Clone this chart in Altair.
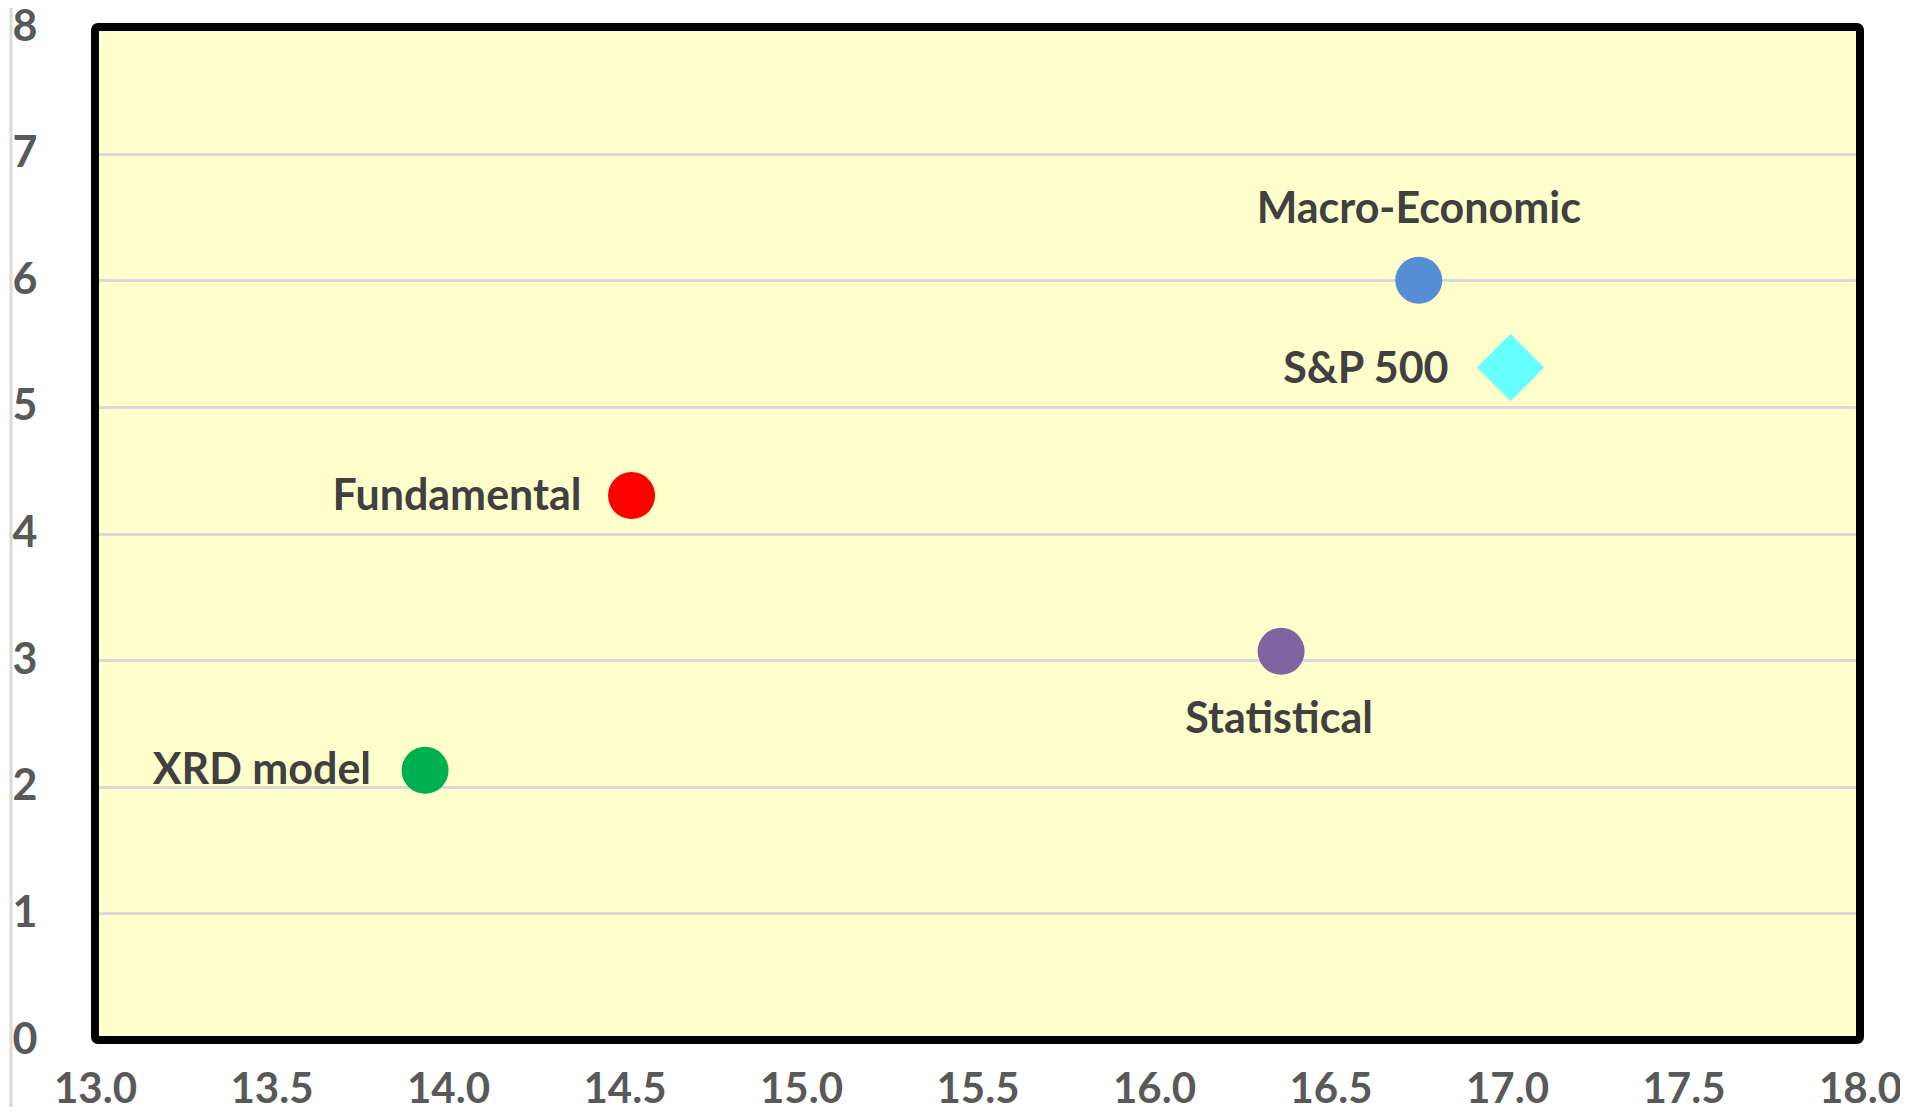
import altair as alt
import pandas as pd

# ---- data ----
names = ["Macro-Economic", "S&P 500", "Statistical", "Fundamental", "XRD model"]
x_vals = [16.75, 17.01, 16.36, 14.52, 13.935]
y_vals = [6.0, 5.31, 3.07, 4.30, 2.13]
shapes = ["circle", "diamond", "circle", "circle", "circle"]
colors = ["#558ED5", "#66FFFF", "#8064A2", "#FF0000", "#00B050"]
x_ticks = [13.0, 13.5, 14.0, 14.5, 15.0, 15.5, 16.0, 16.5, 17.0, 17.5, 18.0]
y_ticks = [0, 1, 2, 3, 4, 5, 6, 7, 8]

df = pd.DataFrame({"name": names, "x": x_vals, "y": y_vals, "shape": shapes})

W, H = 1765, 1013
PAD_L, PAD_T, PAD_R, PAD_B = 87, 19, 40, 67
FONT = "Lato"

xscale = alt.Scale(domain=[13, 18], nice=False, zero=False)
yscale = alt.Scale(domain=[0, 8], nice=False)

xenc = alt.X("x:Q", scale=xscale,
             axis=alt.Axis(values=x_ticks, format=".1f", grid=False, domain=False,
                           ticks=False, labelPadding=29, labelFontSize=42,
                           labelFont=FONT, labelFontWeight="bold", labelColor="#595959",
                           title=None, labelFlush=False))
yenc = alt.Y("y:Q", scale=yscale,
             axis=alt.Axis(values=y_ticks, format="d", grid=True, gridColor="#D9D9D9",
                           gridWidth=3, domain=False, ticks=False, labelPadding=58,
                           labelFontSize=43, labelFont=FONT, labelFontWeight="bold",
                           labelColor="#595959", title=None, labelFlush=False))

base = alt.Chart(df)

points = base.mark_point(filled=True, opacity=1).encode(
    x=xenc,
    y=yenc,
    color=alt.Color("name:N", scale=alt.Scale(domain=names, range=colors), legend=None),
    shape=alt.Shape("shape:N", scale=alt.Scale(domain=["circle", "diamond"],
                                               range=["circle", "diamond"]), legend=None),
    size=alt.Size("shape:N", scale=alt.Scale(domain=["circle", "diamond"],
                                             range=[2209, 4489]), legend=None),
)

# label placement styles (offsets in pixels from each point)
label_style = {
    "Macro-Economic": ("center", 0, -57),
    "S&P 500": ("right", -62, 15),
    "Statistical": ("center", -2, 82),
    "Fundamental": ("right", -50, 14),
    "XRD model": ("right", -54, 14),
}

text_layers = []
for nm in names:
    al, dx, dy = label_style[nm]
    text_layers.append(
        base.transform_filter(alt.datum.name == nm).mark_text(
            align=al, baseline="alphabetic", dx=dx, dy=dy, font=FONT,
            fontWeight="bold", fontSize=43, color="#404040"
        ).encode(x="x:Q", y="y:Q", text="name:N")
    )

frame = alt.Chart(pd.DataFrame({"k": [0]})).mark_rect(
    fill=None, stroke="black", strokeWidth=8, cornerRadius=3
).encode(x=alt.value(0), x2=alt.value(W), y=alt.value(0), y2=alt.value(H))

left_rule = alt.Chart(pd.DataFrame({"k": [0]})).mark_rule(
    color="#D9D9D9", strokeWidth=3, clip=False
).encode(x=alt.value(-84), y=alt.value(-PAD_T), y2=alt.value(H + PAD_B))

chart = alt.layer(points, *text_layers, frame, left_rule).properties(
    width=W, height=H,
    autosize=alt.AutoSizeParams(type="none"),
    padding={"left": PAD_L, "top": PAD_T, "right": PAD_R, "bottom": PAD_B},
    background="white",
).configure_view(fill="#FFFFCC", stroke=None)

chart.save("out.html", embed_options={"renderer": "svg", "actions": False})
